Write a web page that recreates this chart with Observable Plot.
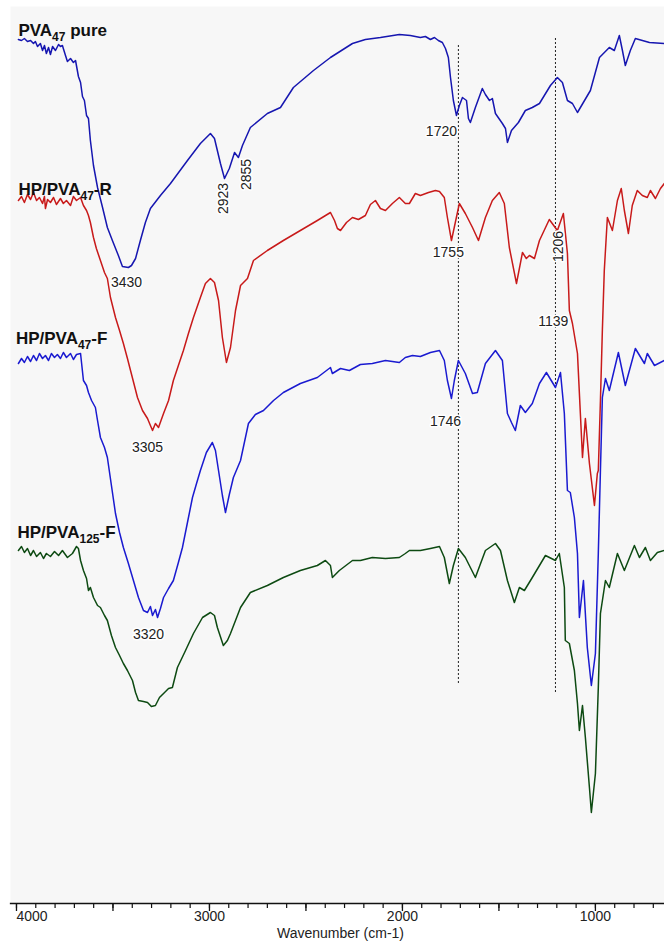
<!DOCTYPE html>
<html><head><meta charset="utf-8">
<script src="https://cdn.jsdelivr.net/npm/d3@7"></script>
<script src="https://cdn.jsdelivr.net/npm/@observablehq/plot@0.6"></script>
<style>body{margin:0;background:#fff} svg{display:block}</style>
</head><body><div id="chart"></div>
<script>
// FTIR spectra: [wavenumber (cm-1), transmittance (a.u., stacked)]
const pvaPure = [[3990,861],[3974,860],[3959,862],[3943,859],[3927,860],[3912,857],[3902,859],[3891,854],[3876,857],[3865,850],[3855,855],[3845,847],[3834,853],[3824,846],[3813,854],[3798,850],[3782,856],[3772,854],[3762,855],[3746,845],[3736,839],[3720,842],[3705,838],[3694,840],[3679,824],[3668,818],[3658,804],[3648,800],[3637,785],[3627,782],[3617,760],[3601,735],[3580,713],[3554,693],[3529,673],[3503,660],[3472,645],[3451,634],[3420,633],[3404,635],[3383,642],[3358,660],[3332,678],[3306,692],[3254,705],[3202,717],[3114,740],[3047,757],[2995,767],[2974,762],[2943,737],[2922,722],[2897,732],[2870,748],[2850,743],[2829,755],[2788,773],[2700,787],[2632,793],[2565,813],[2461,830],[2373,843],[2259,857],[2192,861],[2114,863],[2016,866],[1959,865],[1907,863],[1881,864],[1855,861],[1834,863],[1814,860],[1793,858],[1777,852],[1762,843],[1751,823],[1736,800],[1720,785],[1705,795],[1689,803],[1668,800],[1658,782],[1648,778],[1622,793],[1586,812],[1570,806],[1549,800],[1534,802],[1518,787],[1482,777],[1466,772],[1456,758],[1435,770],[1399,778],[1363,790],[1327,793],[1290,797],[1233,815],[1197,823],[1171,818],[1145,800],[1119,797],[1093,788],[1026,810],[979,843],[928,853],[902,850],[876,865],[860,850],[845,835],[819,850],[793,862],[720,858],[643,857]];
const hpPva47R = [[3990,700],[3974,704],[3959,698],[3943,706],[3927,701],[3912,708],[3896,700],[3881,703],[3865,697],[3855,704],[3850,692],[3839,701],[3824,698],[3808,703],[3793,696],[3772,702],[3757,697],[3741,700],[3720,695],[3705,704],[3689,700],[3668,703],[3653,695],[3637,690],[3627,685],[3617,678],[3601,663],[3586,652],[3565,640],[3544,628],[3529,622],[3513,603],[3487,583],[3466,570],[3446,557],[3425,542],[3409,530],[3389,515],[3373,503],[3347,490],[3321,482],[3306,475],[3295,470],[3280,477],[3264,473],[3238,487],[3212,500],[3187,520],[3161,535],[3135,550],[3109,567],[3083,583],[3047,603],[3021,617],[2995,622],[2974,618],[2953,600],[2933,563],[2912,538],[2891,553],[2865,590],[2839,615],[2803,622],[2772,640],[2700,650],[2617,660],[2529,670],[2441,680],[2373,688],[2352,680],[2337,672],[2321,670],[2290,678],[2259,683],[2228,681],[2192,685],[2166,696],[2140,700],[2114,692],[2088,690],[2052,697],[2016,703],[1985,697],[1964,697],[1933,707],[1907,705],[1865,708],[1829,710],[1808,709],[1783,703],[1767,683],[1746,660],[1726,678],[1705,697],[1674,687],[1637,673],[1606,660],[1570,683],[1534,700],[1498,708],[1472,697],[1446,653],[1409,617],[1378,648],[1358,642],[1342,645],[1316,642],[1290,660],[1239,681],[1197,670],[1166,687],[1145,647],[1135,590],[1119,577],[1093,547],[1078,487],[1067,443],[1052,482],[1031,437],[1005,395],[990,427],[985,430],[974,500],[964,570],[954,630],[938,683],[912,670],[886,700],[866,712],[850,690],[829,667],[809,695],[783,710],[757,705],[731,703],[715,710],[689,702],[663,712],[643,717]];
const hpPva47F = [[3990,537],[3974,542],[3959,538],[3943,544],[3927,539],[3912,545],[3896,540],[3881,547],[3865,542],[3850,545],[3834,540],[3819,547],[3803,543],[3788,546],[3772,542],[3757,548],[3741,543],[3720,547],[3705,541],[3689,546],[3668,547],[3653,520],[3637,515],[3627,508],[3611,500],[3591,493],[3580,480],[3565,463],[3544,453],[3529,443],[3508,415],[3487,387],[3466,368],[3446,353],[3420,337],[3394,320],[3368,303],[3342,290],[3321,288],[3306,294],[3295,285],[3280,291],[3269,283],[3254,292],[3238,303],[3212,312],[3187,320],[3161,338],[3140,353],[3114,378],[3088,403],[3067,417],[3047,430],[3016,448],[2985,458],[2969,450],[2953,430],[2933,405],[2917,388],[2897,406],[2876,423],[2839,440],[2798,477],[2762,486],[2720,490],[2668,500],[2617,508],[2529,517],[2441,523],[2373,533],[2363,527],[2321,532],[2275,530],[2218,536],[2156,537],[2088,540],[2016,538],[1985,543],[1948,545],[1907,544],[1855,548],[1808,550],[1783,540],[1767,520],[1746,502],[1731,520],[1710,540],[1674,527],[1637,507],[1612,508],[1570,537],[1518,550],[1482,540],[1456,487],[1435,478],[1415,470],[1389,495],[1363,488],[1327,497],[1290,517],[1254,528],[1207,513],[1181,528],[1161,487],[1145,410],[1130,408],[1109,383],[1093,347],[1083,283],[1062,320],[1042,253],[1021,215],[1000,247],[985,347],[974,430],[964,503],[948,522],[928,510],[881,548],[845,515],[793,552],[746,537],[731,547],[694,535],[643,540]];
const hpPva125F = [[3990,350],[3974,354],[3959,348],[3943,352],[3927,345],[3912,350],[3896,344],[3876,348],[3860,342],[3845,347],[3824,344],[3803,349],[3782,345],[3762,350],[3736,343],[3710,347],[3689,354],[3679,352],[3668,340],[3653,330],[3637,322],[3627,310],[3617,313],[3601,303],[3580,295],[3565,293],[3544,285],[3529,280],[3508,265],[3487,253],[3466,245],[3446,237],[3425,230],[3399,220],[3383,208],[3368,200],[3342,199],[3321,198],[3301,194],[3280,195],[3259,203],[3238,207],[3212,212],[3192,213],[3166,233],[3124,250],[3083,267],[3036,283],[2995,288],[2974,285],[2959,273],[2928,255],[2907,260],[2891,267],[2839,293],[2788,308],[2700,315],[2617,323],[2529,330],[2441,335],[2399,340],[2373,335],[2363,323],[2327,330],[2259,340],[2218,340],[2156,343],[2088,342],[2016,343],[1985,347],[1964,350],[1907,350],[1855,352],[1808,354],[1783,343],[1757,317],[1736,335],[1710,352],[1674,343],[1622,323],[1570,350],[1518,357],[1492,350],[1456,320],[1420,298],[1394,313],[1368,310],[1327,323],[1259,345],[1207,340],[1187,347],[1161,313],[1156,260],[1135,257],[1109,230],[1093,197],[1083,170],[1067,195],[1052,163],[1031,113],[1021,88],[1000,127],[985,213],[974,287],[948,320],[928,313],[886,347],[850,330],[798,355],[772,343],[741,353],[715,340],[679,348],[643,350]];

const seriesNames = ["PVA_{47} pure", "HP/PVA_{47}-R", "HP/PVA_{47}-F", "HP/PVA_{125}-F"];
const seriesColors = ["#1616b0", "#c81a1a", "#1a1ad0", "#0d4a12"];
const seriesLabelW = [3990, 3990, 4003, 3995];
const seriesLabelT = [870, 711, 562, 368];

const peakLabels = ["2923","2855","1720","3430","1755","1206","1139","3305","1746","3320"];
const peakW = [2928,2808,1798,3430,1762,1192,1218,3321,1777,3316];
const peakT = [702,726,769,618,648,654,579,453,479,266];
const peakRotate = [-90,-90,0,0,0,-90,0,0,0,0];

const guideW = [1710, 1207];
const guideTop = [855, 862];
const guideBottom = [217, 207];

const tickLabels = [4000, 3000, 2000, 1000];
const minorTicks = d3.range(4000, 640, -100);
const majorTicks = d3.range(4000, 640, -500);

const series = [pvaPure, hpPva47R, hpPva47F, hpPva125F];
const guides = guideW.map((w, i) => ({w, t1: guideTop[i], t2: guideBottom[i]}));
const peaks = peakLabels.map((s, i) => ({s, w: peakW[i], t: peakT[i], r: peakRotate[i]}));
const names = seriesNames.map((s, i) => ({s, w: seriesLabelW[i], t: seriesLabelT[i]}));

const svg = Plot.plot({
  width: 664,
  height: 947,
  marginTop: 6,
  marginLeft: 10,
  marginRight: 0,
  marginBottom: 44,
  x: {domain: [4031, 642], axis: null, label: null},
  y: {domain: [0, 900], range: [900, 0], axis: null},
  style: {fontFamily: "'Liberation Sans', Arial, sans-serif", fontSize: "14px", background: "white"},
  marks: [
    Plot.frame({fill: "#f7f7f7", stroke: null}),
    Plot.ruleX(guides, {x: "w", y1: "t1", y2: "t2", stroke: "#222", strokeWidth: 1, strokeDasharray: "2,2"}),
    ...series.map((s, i) => Plot.line(s, {x: d => d[0], y: d => d[1], stroke: seriesColors[i], strokeWidth: 1.5})),
    Plot.text(peaks, {x: "w", y: "t", text: "s", rotate: "r", fill: "#222", fontSize: 14, stroke: "white", strokeWidth: 3}),
    Plot.text(names, {x: "w", y: "t", text: "s", textAnchor: "start", fontWeight: "bold", fontSize: 17, fill: "#111"}),
    Plot.frame({anchor: "bottom", stroke: "#111", strokeWidth: 1.3}),
    Plot.axisX(minorTicks, {tickSize: 5, tickFormat: () => "", label: null, stroke: "#111", strokeWidth: 1.2}),
    Plot.axisX(majorTicks, {tickSize: 8, tickFormat: () => "", label: null, stroke: "#111", strokeWidth: 1.3}),
    Plot.text(tickLabels.slice(0, 1), {x: d => d, text: d => String(d), frameAnchor: "bottom", dy: 17, textAnchor: "start", fontSize: 14, fill: "#222"}),
    Plot.text(tickLabels.slice(1), {x: d => d, text: d => String(d), frameAnchor: "bottom", dy: 17, fontSize: 14, fill: "#222"}),
    Plot.text(["Wavenumber (cm-1)"], {frameAnchor: "bottom", dy: 34, dx: 3, fontSize: 14, fill: "#222"})
  ]
});

// render subscripts written as _{..}
d3.select(svg).selectAll("text").each(function() {
  const t = this.textContent;
  if (!t.includes("_{")) return;
  const parts = t.split(/_\{(\d+)\}/);
  const sel = d3.select(this);
  sel.text("");
  parts.forEach((p, i) => {
    if (p === "") return;
    const ts = sel.append("tspan").text(p);
    if (i % 2 === 1) {
      ts.attr("font-size", 12).attr("dy", 5);
    } else if (i > 0) {
      ts.attr("dy", -5);
    }
  });
});

document.getElementById("chart").appendChild(svg);
</script>
</body></html>
